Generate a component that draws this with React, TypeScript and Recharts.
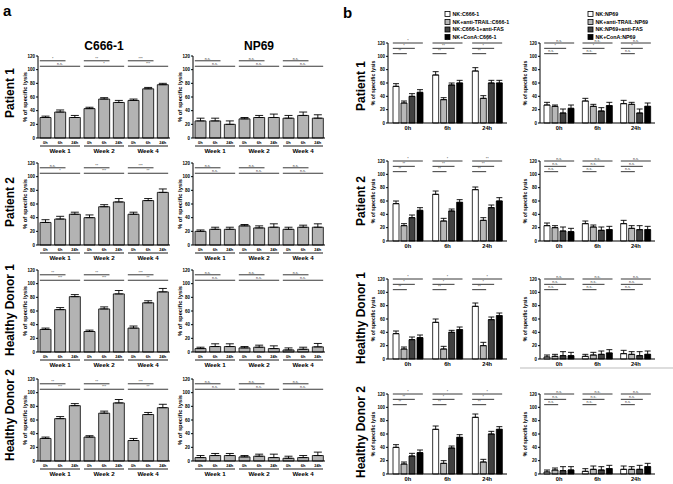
import React from 'react'
import { BarChart, Bar, XAxis, YAxis, ErrorBar, ReferenceLine } from 'recharts'

const FONT = '"Liberation Sans", Arial, Helvetica, sans-serif'
const yTicks = [0, 20, 40, 60, 80, 100, 120]

// panel a
const timePoints = ['0h', '6h', '24h']
const weeks = ['Week 1', 'Week 2', 'Week 4']
const aCols = ['C666-1', 'NP69']
const rowLabels = ['Patient 1', 'Patient 2', 'Healthy Donor 1', 'Healthy Donor 2']

const aP1C666 = [30, 38, 30, 43, 57, 52, 55, 72, 78]
const aP1C666Err = [2, 3, 3, 2, 2, 3, 2, 2, 2]
const aP1NP69 = [25, 25, 20, 28, 30, 30, 29, 33, 29]
const aP1NP69Err = [4, 4, 5, 2, 3, 5, 4, 5, 5]
const aP2C666 = [33, 38, 45, 40, 56, 63, 45, 65, 77]
const aP2C666Err = [4, 4, 3, 4, 3, 5, 3, 3, 5]
const aP2NP69 = [20, 23, 23, 28, 25, 26, 23, 26, 26]
const aP2NP69Err = [2, 3, 3, 2, 3, 5, 3, 3, 5]
const aHD1C666 = [33, 62, 81, 30, 63, 85, 35, 72, 88]
const aHD1C666Err = [2, 3, 3, 2, 3, 5, 3, 3, 5]
const aHD1NP69 = [5, 8, 8, 6, 7, 5, 3, 4, 7.5]
const aHD1NP69Err = [2, 4, 4, 2, 3, 4, 3, 3, 5]
const aHD2C666 = [33, 62, 81, 35, 70, 85, 30, 68, 78]
const aHD2C666Err = [2, 3, 3, 2, 3, 5, 3, 3, 5]
const aHD2NP69 = [5, 8, 8, 6, 7, 5, 4, 5, 8]
const aHD2NP69Err = [3, 3, 3, 2, 3, 5, 3, 3, 5]

// significance per week: [0h vs 6h, 0h vs 24h]
const aP1C666Sig = [['*', 'n.s.'], ['**', '*'], ['***', '***']]
const aP2C666Sig = [['n.s.', '*'], ['**', '***'], ['***', '**']]
const aHD1C666Sig = [['**', '***'], ['**', '***'], ['***', '**']]
const aHD2C666Sig = [['**', '***'], ['**', '***'], ['***', '**']]
const aNP69Sig = [['n.s.', 'n.s.'], ['n.s.', 'n.s.'], ['n.s.', 'n.s.']]

// panel b
const bTimes = ['0h', '6h', '24h']
const c666Legend = ['NK:C666-1', 'NK+anti-TRAIL:C666-1', 'NK:C666-1+anti-FAS', 'NK+ConA:C666-1']
const np69Legend = ['NK:NP69', 'NK+anti-TRAIL:NP69', 'NK:NP69+anti-FAS', 'NK+ConA:NP69']
const bFills = ['#ffffff', '#b8b8b8', '#404040', '#000000']

const bP1C666 = [[55, 72, 78], [30, 35, 37], [40, 57, 60], [46, 60, 60]]
const bP1C666Err = [[4, 5, 5], [3, 3, 4], [4, 3, 4], [4, 4, 4]]
const bP1NP69 = [[27, 33, 29], [25, 25, 28], [15, 18, 15], [22, 26, 25]]
const bP1NP69Err = [[4, 4, 5], [2, 3, 3], [6, 5, 6], [5, 5, 5]]
const bP2C666 = [[56, 70, 77], [23, 30, 31], [35, 45, 50], [46, 58, 60]]
const bP2C666Err = [[4, 5, 4], [3, 4, 4], [4, 3, 4], [4, 4, 5]]
const bP2NP69 = [[23, 26, 26], [20, 21, 19], [15, 16, 17], [14, 17, 17]]
const bP2NP69Err = [[4, 4, 5], [3, 3, 4], [6, 5, 6], [5, 5, 5]]
const bHD1C666 = [[38, 55, 79], [15, 15, 20], [29, 40, 59], [32, 44, 65]]
const bHD1C666Err = [[4, 5, 5], [3, 4, 5], [4, 3, 4], [4, 4, 4]]
const bHD1NP69 = [[3, 4, 8], [4, 6, 7], [5, 7, 5], [5, 9, 7]]
const bHD1NP69Err = [[3, 3, 5], [3, 4, 4], [6, 5, 6], [5, 5, 5]]
const bHD2C666 = [[40, 67, 85], [15, 16, 18], [27, 39, 60], [32, 55, 67]]
const bHD2C666Err = [[4, 5, 5], [3, 4, 4], [4, 3, 4], [4, 4, 4]]
const bHD2NP69 = [[3, 4, 7], [6, 7, 7], [5, 6, 7], [6, 8, 11]]
const bHD2NP69Err = [[3, 4, 5], [3, 5, 4], [6, 5, 6], [5, 5, 5]]

// significance per time point: [vs ConA, vs anti-FAS, vs anti-TRAIL]
const bP1C666Sig = [['*', '*', '**'], ['*', '**', '**'], ['*', '*', '**']]
const bP1NP69Sig = [['n.s.', '*', 'n.s.'], ['n.s.', '*', 'n.s.'], ['n.s.', '*', 'n.s.']]
const bP2C666Sig = [['*', '**', '**'], ['*', '**', '**'], ['**', '**', '**']]
const bHD1C666Sig = [['*', '*', '**'], ['*', '*', '**'], ['*', '*', '**']]
const bHD2C666Sig = [['*', '**', '**'], ['*', '*', '**'], ['*', '*', '**']]
const bNP69Sig = [['n.s.', 'n.s.', 'n.s.'], ['n.s.', 'n.s.', 'n.s.'], ['n.s.', 'n.s.', 'n.s.']]

// layout
const A_PLOT_W = 132
const A_PLOT_H = 82
const A_COL_X = [38, 193]
const A_ROW_Y = [56, 163, 270, 379]
const A_LABEL_Y = [93, 202, 310, 415]
const A_BAR = 11

const B_PLOT_H = 80
const B_COL_X = [388, 540]
const B_COL_W = [119, 115]
const B_ROW_Y = [43, 161, 279, 394]
const B_LABEL_Y = [86, 201, 318, 432]
const B_BAR = 6
const B_GAP = 2
const LEGEND_Y = [14, 22, 29.5, 37]

const aCharts = [
  [{ v: aP1C666, e: aP1C666Err, s: aP1C666Sig }, { v: aP1NP69, e: aP1NP69Err, s: aNP69Sig }],
  [{ v: aP2C666, e: aP2C666Err, s: aP2C666Sig }, { v: aP2NP69, e: aP2NP69Err, s: aNP69Sig }],
  [{ v: aHD1C666, e: aHD1C666Err, s: aHD1C666Sig }, { v: aHD1NP69, e: aHD1NP69Err, s: aNP69Sig }],
  [{ v: aHD2C666, e: aHD2C666Err, s: aHD2C666Sig }, { v: aHD2NP69, e: aHD2NP69Err, s: aNP69Sig }],
]

const bCharts = [
  [{ v: bP1C666, e: bP1C666Err, s: bP1C666Sig }, { v: bP1NP69, e: bP1NP69Err, s: bP1NP69Sig }],
  [{ v: bP2C666, e: bP2C666Err, s: bP2C666Sig }, { v: bP2NP69, e: bP2NP69Err, s: bNP69Sig }],
  [{ v: bHD1C666, e: bHD1C666Err, s: bHD1C666Sig }, { v: bHD1NP69, e: bHD1NP69Err, s: bNP69Sig }],
  [{ v: bHD2C666, e: bHD2C666Err, s: bHD2C666Sig }, { v: bHD2NP69, e: bHD2NP69Err, s: bNP69Sig }],
]

const aKey = (w: number, t: number) => `${weeks[w]}|${timePoints[t]}`

// significance bar drawn on a reference segment, stretched to the bar edges
function bracket(label: string, dl: number, dr: number) {
  return (p: any) => {
    const x1 = p.x1 + dl
    const x2 = p.x2 + dr
    return (
      <g>
        <line x1={x1} x2={x2} y1={p.y1} y2={p.y1} stroke="#222" strokeWidth={0.9} />
        <text x={(x1 + x2) / 2} y={p.y1 - 1.2} textAnchor="middle" fontSize={3.6} fontFamily={FONT} fill="#333">
          {label}
        </text>
      </g>
    )
  }
}

function WeekTick(props: any) {
  const { x, y, payload, index } = props
  const [week, t] = String(payload.value).split('|')
  return (
    <g fontFamily={FONT} fontWeight={700} fill="#000">
      <text x={x} y={y + 6.3} textAnchor="middle" fontSize={4}>{t}</text>
      {index % 3 === 1 && (
        <g>
          <line x1={x - 20} x2={x + 20} y1={y + 8} y2={y + 8} stroke="#000" strokeWidth={0.9} />
          <text x={x} y={y + 14.7} textAnchor="middle" fontSize={6.2}>{week}</text>
        </g>
      )}
    </g>
  )
}

const yTick = { fontSize: 4.5, fontWeight: 700, fill: '#000', fontFamily: FONT }

function ChartA({ values, errs, sig, left, top }: any) {
  const data = values.map((v: number, i: number) => ({
    key: aKey(Math.floor(i / 3), i % 3),
    v,
    e: [0, errs[i]],
  }))
  const h = A_BAR / 2
  return (
    <div style={{ position: 'absolute', left: left - 18, top: top - 6 }}>
      <BarChart width={18 + A_PLOT_W + 2} height={6 + A_PLOT_H + 20} data={data}
        margin={{ top: 6, right: 2, bottom: 0, left: 0 }}>
        <XAxis dataKey="key" interval={0} tickLine={false} tickSize={0} tickMargin={0} height={20}
          axisLine={{ stroke: '#000', strokeWidth: 1 }} tick={<WeekTick />} />
        <YAxis domain={[0, 120]} ticks={yTicks} width={18} tickSize={2} tickMargin={1} interval={0}
          tick={yTick} axisLine={{ stroke: '#000', strokeWidth: 1 }} tickLine={{ stroke: '#000' }}
          label={{ value: '% of specific lysis', angle: -90, position: 'insideLeft', offset: 5,
            style: { textAnchor: 'middle', fontSize: 5.8, fontWeight: 700, fill: '#000', fontFamily: FONT } }} />
        {sig.map((s: string[], w: number) => (
          <ReferenceLine key={'s' + w} segment={[{ x: aKey(w, 0), y: 113 }, { x: aKey(w, 1), y: 113 }]}
            shape={bracket(s[0], -h, h)} />
        ))}
        {sig.map((s: string[], w: number) => (
          <ReferenceLine key={'l' + w} segment={[{ x: aKey(w, 0), y: 105 }, { x: aKey(w, 2), y: 105 }]}
            shape={bracket(s[1], -h, h)} />
        ))}
        <Bar dataKey="v" fill="#b3b3b3" stroke="#000" strokeWidth={0.8} barSize={A_BAR} isAnimationActive={false}>
          <ErrorBar dataKey="e" width={4} stroke="#000" strokeWidth={0.9} direction="y" />
        </Bar>
      </BarChart>
    </div>
  )
}

function ChartB({ series, errs, sig, left, top, plotW }: any) {
  const data = bTimes.map((t, i) => {
    const row: any = { t }
    series.forEach((s: number[], k: number) => {
      row['s' + k] = s[i]
      row['e' + k] = [0, errs[k][i]]
    })
    return row
  })
  const half = (4 * B_BAR + 3 * B_GAP) / 2
  const levels = [120, 112, 104]
  const ends = [half, half - B_BAR - B_GAP, half - 2 * (B_BAR + B_GAP)]
  return (
    <div style={{ position: 'absolute', left: left - 18, top: top - 6 }}>
      <BarChart width={18 + plotW + 2} height={6 + B_PLOT_H + 12} data={data}
        margin={{ top: 6, right: 2, bottom: 0, left: 0 }} barGap={B_GAP}>
        <XAxis dataKey="t" interval={0} tickLine={false} tickSize={0} tickMargin={3} height={12}
          axisLine={{ stroke: '#000', strokeWidth: 1 }}
          tick={{ fontSize: 5.7, fontWeight: 700, fill: '#000', fontFamily: FONT }} />
        <YAxis domain={[0, 120]} ticks={yTicks} width={18} tickSize={2} tickMargin={1} interval={0}
          tick={yTick} axisLine={{ stroke: '#000', strokeWidth: 1 }} tickLine={{ stroke: '#000' }}
          label={{ value: '% of specific lysis', angle: -90, position: 'insideLeft', offset: 3,
            style: { textAnchor: 'middle', fontSize: 5.2, fontWeight: 700, fill: '#000', fontFamily: FONT } }} />
        {bTimes.map((t, g) => levels.map((y, k) => (
          <ReferenceLine key={t + k} segment={[{ x: t, y }, { x: t, y }]}
            shape={bracket(sig[g][k], -half, ends[k])} />
        )))}
        {bFills.map((f, k) => (
          <Bar key={k} dataKey={'s' + k} fill={f} stroke="#000" strokeWidth={0.8} barSize={B_BAR}
            isAnimationActive={false}>
            <ErrorBar dataKey={'e' + k} width={3} stroke="#000" strokeWidth={0.9} direction="y" />
          </Bar>
        ))}
      </BarChart>
    </div>
  )
}

export default function App() {
  return (
    <div style={{ position: 'absolute', left: 0, top: 0, width: 673, height: 484, background: '#fff',
      overflow: 'hidden', fontFamily: FONT }}>
      <svg width={673} height={484} style={{ position: 'absolute', left: 0, top: 0 }} fontFamily={FONT}>
        <text x={3} y={16} fontSize={15} fontWeight={700}>a</text>
        <text x={343} y={18} fontSize={15} fontWeight={700}>b</text>
        {aCols.map((c, i) => (
          <text key={c} x={A_COL_X[i] + A_PLOT_W / 2} y={49.5} textAnchor="middle" fontSize={12} fontWeight={700}>{c}</text>
        ))}
        {rowLabels.map((r, i) => (
          <text key={'a' + r} transform={`translate(13.5, ${A_LABEL_Y[i]}) rotate(-90)`} textAnchor="middle"
            fontSize={12} fontWeight={700}>{r}</text>
        ))}
        {rowLabels.map((r, i) => (
          <text key={'b' + r} transform={`translate(365, ${B_LABEL_Y[i]}) rotate(-90)`} textAnchor="middle"
            fontSize={12} fontWeight={700}>{r}</text>
        ))}
        {c666Legend.map((l, i) => (
          <g key={l}>
            <rect x={445} y={LEGEND_Y[i] - 2.5} width={5} height={5} fill={bFills[i]} stroke="#000" strokeWidth={0.8} />
            <text x={452.5} y={LEGEND_Y[i] + 1.9} fontSize={5.3} fontWeight={700}>{l}</text>
          </g>
        ))}
        {np69Legend.map((l, i) => (
          <g key={l}>
            <rect x={588} y={LEGEND_Y[i] - 2.5} width={5} height={5} fill={bFills[i]} stroke="#000" strokeWidth={0.8} />
            <text x={595.5} y={LEGEND_Y[i] + 1.9} fontSize={5.3} fontWeight={700}>{l}</text>
          </g>
        ))}
        <line x1={520} x2={673} y1={368} y2={368} stroke="#bbb" strokeWidth={1} />
      </svg>
      {aCharts.map((row, r) => row.map((c, k) => (
        <ChartA key={`a${r}${k}`} values={c.v} errs={c.e} sig={c.s} left={A_COL_X[k]} top={A_ROW_Y[r]} />
      )))}
      {bCharts.map((row, r) => row.map((c, k) => (
        <ChartB key={`b${r}${k}`} series={c.v} errs={c.e} sig={c.s} left={B_COL_X[k]} top={B_ROW_Y[r]}
          plotW={B_COL_W[k]} />
      )))}
    </div>
  )
}
